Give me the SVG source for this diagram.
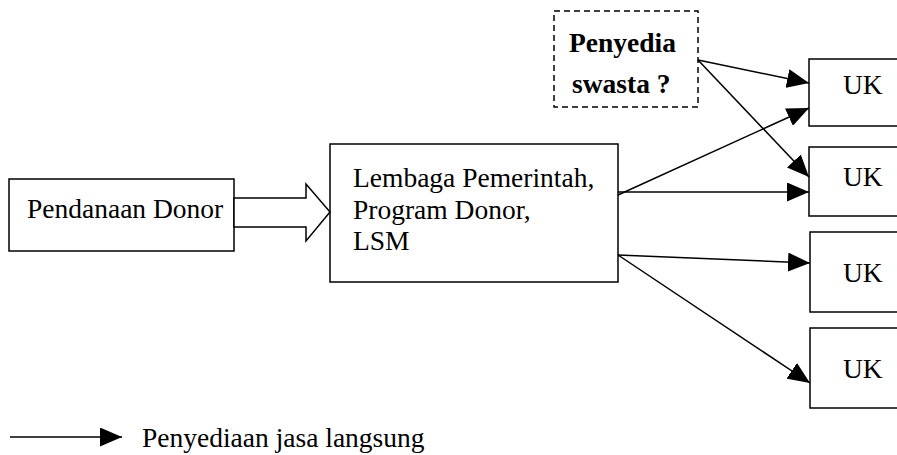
<svg xmlns="http://www.w3.org/2000/svg" width="897" height="455" viewBox="0 0 897 455">
<style>
.box{fill:#fff;stroke:#000;stroke-width:1.5}
.dash{fill:#fff;stroke:#000;stroke-width:1.5;stroke-dasharray:6 4}
.t{font-family:"Liberation Serif","Times New Roman",serif;font-size:27.5px;fill:#000}
.b{font-weight:bold}
.c{stroke:#000;stroke-width:1.5;fill:none;marker-end:url(#ah)}
</style>
<defs>
<marker id="ah" markerUnits="userSpaceOnUse" markerWidth="22" markerHeight="19" refX="22" refY="9.5" orient="auto" viewBox="0 0 22 19">
<path d="M0,0 L22,9.5 L0,19 Z" fill="#000"/>
</marker>
</defs>
<g id="pendanaan">
<rect class="box" x="9" y="179" width="225" height="72"/>
<text class="t" x="27" y="218">Pendanaan Donor</text>
</g>
<g id="lembaga">
<rect class="box" x="330" y="144" width="288" height="138"/>
<text class="t" x="353" y="187">Lembaga Pemerintah,</text>
<text class="t" x="353" y="218.5">Program Donor,</text>
<text class="t" x="353" y="250">LSM</text>
</g>
<g id="swasta">
<rect class="dash" x="554" y="11" width="144" height="96"/>
<text class="t b" x="569" y="52">Penyedia</text>
<text class="t b" x="572" y="93">swasta ?</text>
</g>
<g id="uk1">
<rect class="box" x="809" y="59" width="95" height="67"/>
<text class="t" x="843" y="94">UK</text>
</g>
<g id="uk2">
<rect class="box" x="809" y="147" width="95" height="69"/>
<text class="t" x="843" y="186">UK</text>
</g>
<g id="uk3">
<rect class="box" x="810" y="232" width="95" height="80"/>
<text class="t" x="843" y="282">UK</text>
</g>
<g id="uk4">
<rect class="box" x="810" y="328" width="95" height="80"/>
<text class="t" x="843" y="378">UK</text>
</g>
<g id="connectors">
<polygon class="box" points="234,198 306,198 306,184 330,212 306,241 306,227 234,227"/>
<line class="c" x1="698" y1="60" x2="809" y2="83"/>
<line class="c" x1="698" y1="60" x2="809" y2="177"/>
<line class="c" x1="618" y1="195" x2="809" y2="108"/>
<line class="c" x1="618" y1="192" x2="809" y2="192"/>
<line class="c" x1="618" y1="255" x2="810" y2="263"/>
<line class="c" x1="618" y1="255" x2="810" y2="383"/>
</g>
<g id="legend">
<line class="c" x1="10" y1="437" x2="122" y2="437"/>
<text class="t" x="142" y="447">Penyediaan jasa langsung</text>
</g>
</svg>
